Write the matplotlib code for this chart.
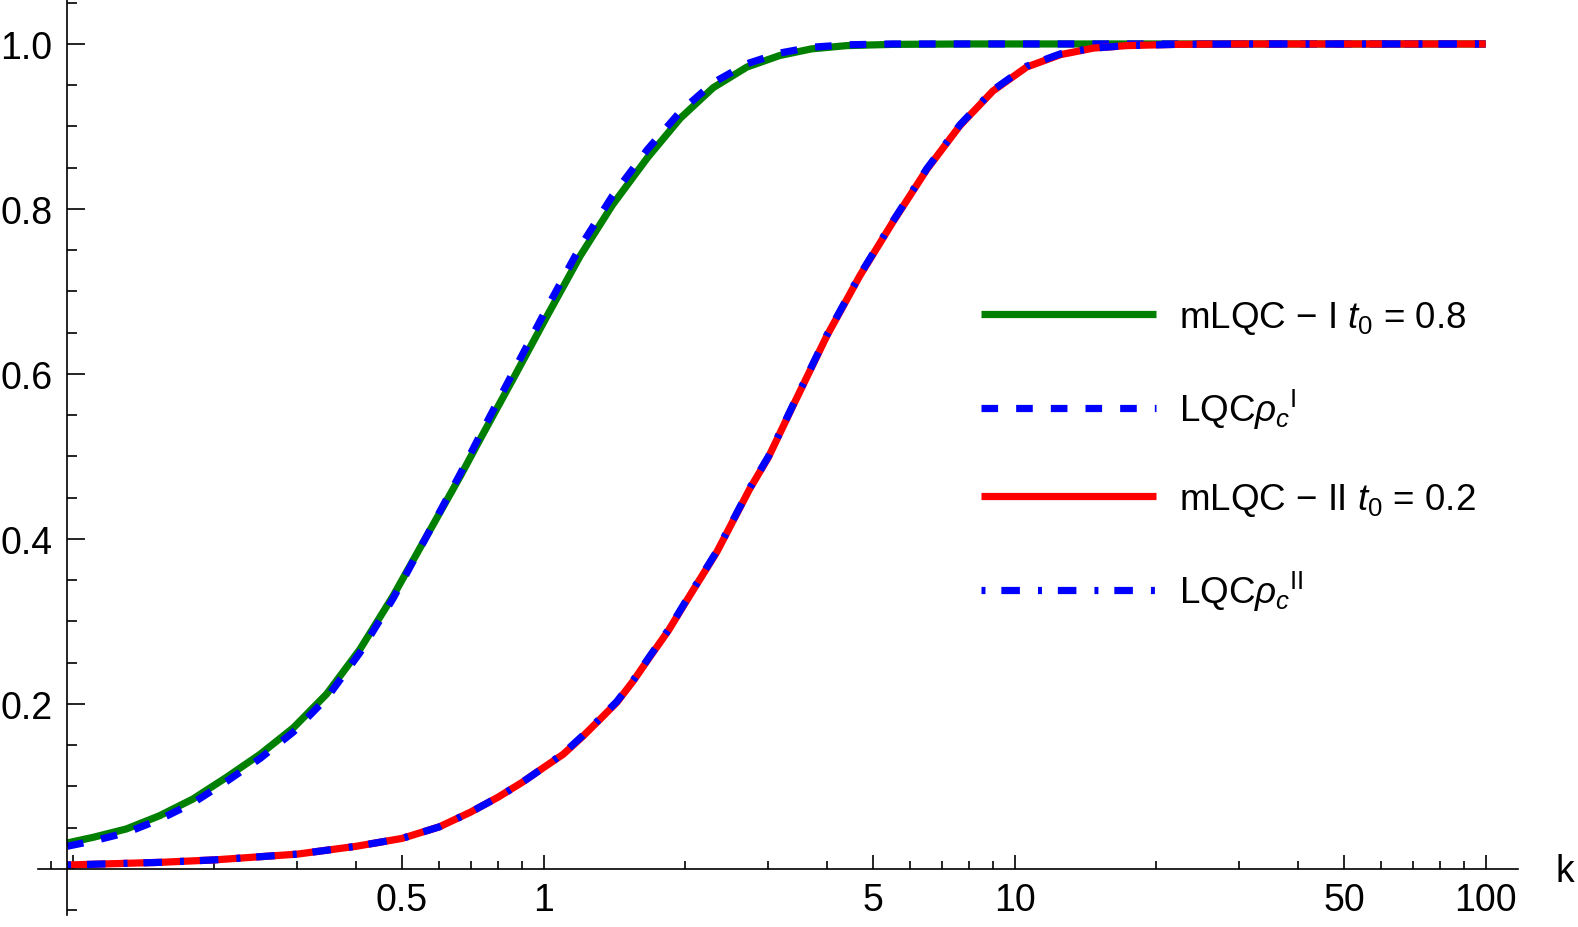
import matplotlib
matplotlib.use("Agg")
import matplotlib.pyplot as plt
from matplotlib.ticker import FixedLocator, FixedFormatter, NullFormatter

plt.rcParams["font.family"] = ["Liberation Sans", "DejaVu Sans"]
plt.rcParams["mathtext.fontset"] = "custom"
plt.rcParams["mathtext.rm"] = "Liberation Sans"
plt.rcParams["mathtext.it"] = "Liberation Sans:italic"

# mLQC-I (t0 = 0.8) and LQC rho_c^I
k_I = [0.0973, 0.1106, 0.130, 0.153, 0.180, 0.212, 0.25, 0.294, 0.346, 0.407,
       0.479, 0.565, 0.665, 0.733, 0.861, 1.016, 1.195, 1.40, 1.66, 1.95, 2.29,
       2.70, 3.17, 3.70, 4.4, 5.5, 8.0, 20.0, 100.0]
mlqc_I = [0.0315, 0.0384, 0.0485, 0.0646, 0.0848, 0.111, 0.139, 0.171, 0.212,
          0.266, 0.331, 0.404, 0.476, 0.521, 0.594, 0.670, 0.743, 0.805, 0.862,
          0.910, 0.947, 0.972, 0.986, 0.994, 0.998, 0.9995, 1.0, 1.0, 1.0]
lqc_I = [0.0275, 0.034, 0.044, 0.060, 0.080, 0.106, 0.134, 0.166, 0.207,
         0.262, 0.328, 0.404, 0.479, 0.526, 0.602, 0.680, 0.754, 0.816, 0.872,
         0.918, 0.953, 0.976, 0.989, 0.996, 0.999, 1.0, 1.0, 1.0, 1.0]

# mLQC-II (t0 = 0.2) and LQC rho_c^II
k_II = [0.0973, 0.153, 0.2, 0.3, 0.4, 0.5, 0.6, 0.7, 0.8, 0.9, 1.0, 1.1, 1.212,
        1.32, 1.43, 1.55, 1.68, 1.84, 2.0, 2.33, 2.74, 3.0, 3.38, 3.99, 4.69,
        5.51, 6.51, 7.65, 8.99, 10.6, 12.5, 14.7, 17.3, 22.0, 30.0, 100.0]
mlqc_II = [0.0048, 0.008, 0.011, 0.018, 0.0275, 0.037, 0.051, 0.069, 0.087,
           0.105, 0.123, 0.139, 0.161, 0.182, 0.202, 0.228, 0.257, 0.289,
           0.323, 0.384, 0.461, 0.499, 0.561, 0.646, 0.719, 0.784, 0.848,
           0.901, 0.943, 0.972, 0.987, 0.995, 0.998, 0.9995, 1.0, 1.0]
lqc_II = [0.0048, 0.008, 0.011, 0.018, 0.0275, 0.037, 0.051, 0.069, 0.087,
          0.105, 0.123, 0.140, 0.162, 0.183, 0.203, 0.229, 0.258, 0.290,
          0.324, 0.385, 0.462, 0.500, 0.562, 0.647, 0.720, 0.785, 0.849,
          0.902, 0.944, 0.973, 0.988, 0.995, 0.998, 0.9995, 1.0, 1.0]

labels = [r"mLQC $-$ I $t_0$ = 0.8", r"LQC$\rho_c{}^{\mathrm{I}}$",
          r"mLQC $-$ II $t_0$ = 0.2", r"LQC$\rho_c{}^{\mathrm{II}}$"]

x_major = [0.1, 0.5, 1, 5, 10, 50, 100]
x_major_labels = ["", "0.5", "1", "5", "10", "50", "100"]
x_minor = [0.09, 0.2, 0.3, 0.4, 0.6, 0.7, 0.8, 0.9, 2, 3, 4, 6, 7, 8, 9,
           20, 30, 40, 60, 70, 80, 90]
y_major = [0.2, 0.4, 0.6, 0.8, 1.0]
y_major_labels = ["0.2", "0.4", "0.6", "0.8", "1.0"]
y_minor = [-0.05, 0.05, 0.1, 0.15, 0.25, 0.3, 0.35, 0.45, 0.5, 0.55, 0.65,
           0.7, 0.75, 0.85, 0.9, 0.95, 1.05]

fs_tick = 27
fs_leg = 26.5
lw = 5.2

fig = plt.figure(figsize=(15.78, 9.28), dpi=100)
ax = fig.add_axes([38 / 1578, 12 / 928, 1480 / 1578, 916 / 928])

ax.plot(k_I, mlqc_I, color="#008000", lw=lw, solid_capstyle="butt", label=labels[0])
ax.plot(k_I, lqc_I, color="#0000ff", lw=lw, ls=(0, (2.3, 2.5)), label=labels[1])
ax.plot(k_II, mlqc_II, color="#ff0000", lw=lw, solid_capstyle="butt", label=labels[2])
ax.plot(k_II, lqc_II, color="#0000ff", lw=lw, ls=(0, (0.55, 2.2, 2.57, 2.5)),
        label=labels[3])

ax.set_xscale("log")
ax.set_xlim(0.0844, 117.1)
ax.set_ylim(-0.0558, 1.0545)

for s in ["top", "right"]:
    ax.spines[s].set_visible(False)
ax.spines["left"].set_position(("data", 0.0973))
ax.spines["bottom"].set_position(("data", 0))
for s in ["left", "bottom"]:
    ax.spines[s].set_linewidth(1.2)

ax.xaxis.set_major_locator(FixedLocator(x_major))
ax.xaxis.set_major_formatter(FixedFormatter(x_major_labels))
ax.xaxis.set_minor_locator(FixedLocator(x_minor))
ax.xaxis.set_minor_formatter(NullFormatter())
ax.yaxis.set_major_locator(FixedLocator(y_major))
ax.yaxis.set_major_formatter(FixedFormatter(y_major_labels))
ax.yaxis.set_minor_locator(FixedLocator(y_minor))

ax.tick_params(axis="x", which="major", direction="in", length=10, width=1.2,
               pad=9.5, labelsize=fs_tick)
ax.tick_params(axis="x", which="minor", direction="in", length=5.5, width=1.2)
ax.tick_params(axis="y", which="major", direction="in", length=12.7, width=1.2,
               pad=10.5, labelsize=fs_tick)
ax.tick_params(axis="y", which="minor", direction="in", length=7.4, width=1.2)

fig.text(1565 / 1578, 1 - 882 / 928, "k", ha="center", va="baseline",
         fontsize=fs_tick)

ax.legend(loc="upper left", bbox_to_anchor=(981 / 1578, 1 - 300 / 928),
          bbox_transform=fig.transFigure, frameon=False, fontsize=fs_leg,
          handlelength=4.75, handletextpad=0.62, labelspacing=1.37,
          borderpad=0, borderaxespad=0)

fig.savefig("out.png", dpi=100)
